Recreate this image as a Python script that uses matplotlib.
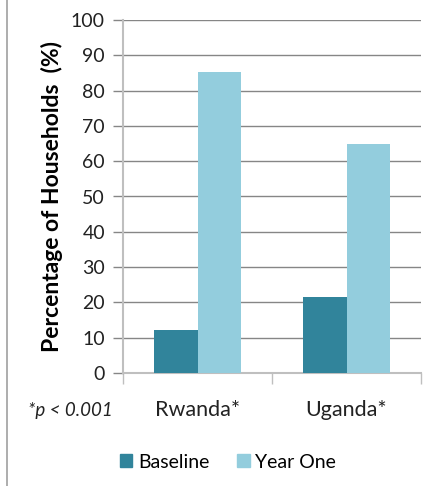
import matplotlib
matplotlib.use("Agg")
import matplotlib.pyplot as plt
from matplotlib.patches import Patch
from matplotlib.lines import Line2D
import numpy as np

categories = ["Rwanda*", "Uganda*"]
baseline = [12.2, 21.5]
year_one = [85.2, 65.0]
series_names = ["Baseline", "Year One"]
yticks = [0, 10, 20, 30, 40, 50, 60, 70, 80, 90, 100]

plt.rcParams['font.family'] = ['Lato', 'DejaVu Sans']

W, H = 433, 486
fig = plt.figure(figsize=(W/100, H/100), dpi=100)
ax = fig.add_axes([123/W, 1-373/H, (421-123)/W, (373-20)/H])

c_base = "#31849B"
c_year = "#93CDDD"
x = np.arange(len(categories))
bw = 0.29
ax.bar(x - bw/2, baseline, bw, color=c_base, zorder=3)
ax.bar(x + bw/2, year_one, bw, color=c_year, zorder=3)

ax.set_xlim(-0.5, 1.5)
ax.set_ylim(0, 100)
ax.set_yticks(yticks)
ax.set_yticklabels([str(v) for v in yticks], fontsize=14, color="#222222")
ax.yaxis.grid(True, color="#868686", linewidth=1, zorder=0)
ax.tick_params(axis='y', length=7, color="#868686", width=1, pad=6)

ax.set_xticks([-0.5, 0.5, 1.5])
ax.set_xticklabels([])
ax.tick_params(axis='x', length=8, color="#bfbfbf", width=1, direction='out')
for i, c in enumerate(categories):
    ax.text(x[i], -10.5, c, ha='center', va='center', fontsize=15.5, color="#222222",
            transform=ax.transData, clip_on=False)
ax.text(-0.57, -10.5, "*p < 0.001", ha='right', va='center', fontsize=13.5,
        style='italic', color="#222222", clip_on=False)

for s in ['top', 'right']:
    ax.spines[s].set_visible(False)
ax.spines['left'].set_color("#bfbfbf")
ax.spines['left'].set_linewidth(1.5)
ax.spines['bottom'].set_color("#bfbfbf")
ax.spines['bottom'].set_linewidth(1.5)

ax.set_ylabel("Percentage of Households  (%)", fontsize=16.5, fontweight='bold',
              color="#000000", labelpad=6)

handles = [Patch(color=c_base), Patch(color=c_year)]
fig.legend(handles, series_names, loc='center', bbox_to_anchor=(228/W, 1-462/H),
           ncol=2, frameon=False, fontsize=14, handlelength=0.65, handleheight=0.65,
           handletextpad=0.3, columnspacing=1.4)

fig.add_artist(Line2D([7.5/W, 7.5/W], [0, 1], color="#a0a0a0", linewidth=1.2,
                      transform=fig.transFigure))

fig.savefig("out.png", dpi=100)
